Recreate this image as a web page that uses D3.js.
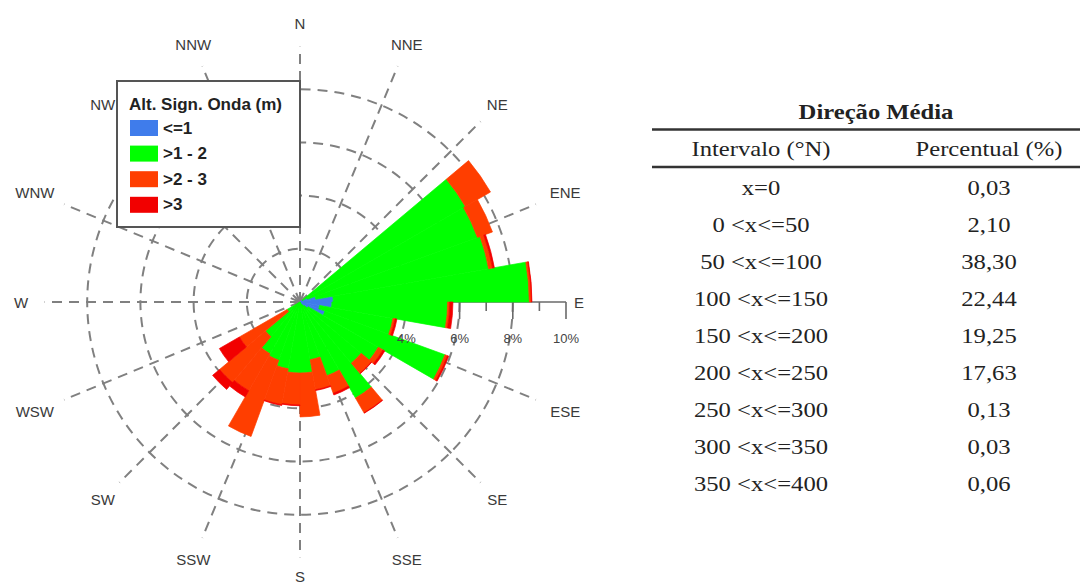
<!DOCTYPE html>
<html><head><meta charset="utf-8">
<script src="https://cdn.jsdelivr.net/npm/d3@7"></script>
<style>html,body{margin:0;padding:0;background:#fff;} svg{display:block;}</style>
</head><body>
<svg id="c" width="1084" height="585"></svg>
<script>
// ---- data (percent of time per 10° direction bin, by wave-height class) ----
const binStarts = d3.range(0, 360, 10);
const pctBlue   = [0,0,0,0,0, 0.10,0.30,0.60,1.25,1.20, 0.75,1.00,0.35,0.20,0.10, 0.05,0.05,0,0,0, 0,0,0,0,0, 0,0,0,0,0, 0,0,0,0,0,0];
const pctGreen  = [0,0,0,0,0, 7.08,6.80,6.60,7.37,4.35, 2.80,4.80,3.05,2.80,4.07, 2.90,2.15,2.67,2.67,2.55, 2.33,2.25,1.70,0.56,0, 0,0,0,0,0, 0,0,0,0,0,0];
const pctOrange = [0,0,0,0,0, 1.09,0.60,0.15,0.08,0.08, 0.08,0.10,0.20,0.50,0.64, 0.70,1.15,1.65,1.20,1.37, 3.05,1.60,2.25,2.07,0, 0,0,0,0,0, 0,0,0,0,0,0];
const pctRed    = [0,0,0,0,0, 0,0,0.07,0.02,0.12, 0.07,0.05,0.08,0.02,0.02, 0.07,0.03,0,0.03,0.03, 0,0.27,0.34,0.87,0, 0,0,0,0,0, 0,0,0,0,0,0];
const classKeys   = ["blue","green","orange","red"];
const classLabels = ["<=1", ">1 - 2", ">2 - 3", ">3"];
const classColors = ["#3F7CEB", "#00FF00", "#FF3E00", "#F20000"];
const legendTitle = "Alt. Sign. Onda (m)";
const compassLabels = ["N","NNE","NE","ENE","E","ESE","SE","SSE","S","SSW","SW","WSW","W","WNW","NW","NNW"];
const gridCircles = [2,4,6,8];
const axisTicks = [4,5,6,7,8,9,10];
const axisLabels = [4,6,8,10];

const tableTitle = "Direção Média";
const tableHeaders = ["Intervalo (°N)", "Percentual (%)"];
const tableIntervals = ["x=0","0 <x<=50","50 <x<=100","100 <x<=150","150 <x<=200","200 <x<=250","250 <x<=300","300 <x<=350","350 <x<=400"];
const tablePercents = ["0,03","2,10","38,30","22,44","19,25","17,63","0,13","0,03","0,06"];

// ---- layout ----
const svg = d3.select("#c");
const cx = 300, cy = 302;
const r = d3.scaleLinear().domain([0,10]).range([0,266]);
const rose = svg.append("g").attr("transform",`translate(${cx},${cy})`);
const rad = d => d*Math.PI/180;
const gridCol = "#808080";

// grid circles
rose.selectAll("circle.grid").data(gridCircles).join("circle")
  .attr("r", d=>r(d)).attr("fill","none").attr("stroke",gridCol)
  .attr("stroke-width",2).attr("stroke-dasharray","10,7");
// radial lines
const spokes = d3.range(16).map(i=>i*22.5).filter(a=>a!==90);
rose.selectAll("line.spoke").data(spokes).join("line")
  .attr("x1",0).attr("y1",0)
  .attr("x2",d=>r(9.6)*Math.sin(rad(d))).attr("y2",d=>-r(9.6)*Math.cos(rad(d)))
  .attr("stroke",gridCol).attr("stroke-width",2).attr("stroke-dasharray","10,7");

// percentage axis along E
rose.append("line").attr("x1",0).attr("x2",r(10)).attr("y1",0).attr("y2",0)
  .attr("stroke","#6a6a6a").attr("stroke-width",1.6);
rose.selectAll("line.tick").data(axisTicks).join("line")
  .attr("x1",d=>r(d)).attr("x2",d=>r(d)).attr("y1",0).attr("y2",d=>d%2===0?17:9)
  .attr("stroke","#6a6a6a").attr("stroke-width",1.6);

// stacked bars
const rows = binStarts.map((d,i)=>({dir:d, blue:pctBlue[i], green:pctGreen[i], orange:pctOrange[i], red:pctRed[i]}));
const stacked = d3.stack().keys(classKeys)(rows);
const arc = d3.arc();
stacked.forEach((layer,k)=>{
  rose.append("g").selectAll("path").data(layer.filter(s=>s[1]>s[0])).join("path")
    .attr("fill",classColors[k]).attr("stroke",classColors[k]).attr("stroke-width",0.7)
    .attr("d",s=>arc({innerRadius:r(s[0]), outerRadius:r(s[1]), startAngle:rad(s.data.dir), endAngle:rad(s.data.dir+10)}));
});

rose.selectAll("text.pct").data(axisLabels).join("text")
  .attr("x",d=>r(d)).attr("y",36).attr("text-anchor","middle").attr("dominant-baseline","central")
  .attr("font-family","Liberation Sans, Arial, sans-serif").attr("font-size",13).attr("fill","#444")
  .text(d=>d+"%");

// compass labels
svg.append("g").selectAll("text").data(compassLabels).join("text")
  .each(function(d,i){
    const a = rad(i*22.5);
    const s = Math.abs(Math.sin(a)), c = Math.abs(Math.cos(a));
    const rr = 279 + ((s>0.9 && c>0.3) ? 8 : 0) - (i===8 ? 5 : 0);
    d3.select(this).attr("x", cx + rr*Math.sin(a)).attr("y", cy - rr*Math.cos(a));
  })
  .attr("text-anchor","middle").attr("dominant-baseline","central")
  .attr("font-family","Liberation Sans, Arial, sans-serif").attr("font-size",15).attr("fill","#3a3a3a")
  .text(d=>d);

// legend
const lg = svg.append("g");
lg.append("rect").attr("x",117).attr("y",81).attr("width",183).attr("height",146)
  .attr("fill","#fff").attr("stroke","#555").attr("stroke-width",2);
lg.append("text").attr("x",129).attr("y",104).attr("dominant-baseline","central")
  .attr("font-family","Liberation Sans, Arial, sans-serif").attr("font-size",17).attr("font-weight","bold")
  .attr("fill","#222").text(legendTitle);
const li = lg.selectAll("g.item").data(classLabels).join("g")
  .attr("transform",(d,i)=>`translate(130,${128 + i*25.6})`);
li.append("rect").attr("x",0).attr("y",-8).attr("width",28).attr("height",16).attr("fill",(d,i)=>classColors[i]);
li.append("text").attr("x",33).attr("y",0).attr("dominant-baseline","central")
  .attr("font-family","Liberation Sans, Arial, sans-serif").attr("font-size",17).attr("font-weight","bold")
  .attr("fill","#222").text(d=>d);

// table
const tg = svg.append("g").attr("font-family","Liberation Serif, Times New Roman, serif").attr("fill","#222");
const sx = 1.12, fs = 22;
function ttext(x,y,t,bold){
  tg.append("text").attr("transform",`translate(${x},${y}) scale(${sx},1)`)
    .attr("text-anchor","middle").attr("font-size",fs).attr("font-weight",bold?"bold":"normal").text(t);
}
const colX = [761, 989];
ttext(876, 119, tableTitle, true);
tg.append("line").attr("x1",652).attr("x2",1080).attr("y1",129.5).attr("y2",129.5).attr("stroke","#333").attr("stroke-width",2.5);
tableHeaders.forEach((h,i)=>ttext(colX[i], 156, h, false));
tg.append("line").attr("x1",652).attr("x2",1080).attr("y1",167).attr("y2",167).attr("stroke","#333").attr("stroke-width",2.5);
tableIntervals.forEach((t,i)=>{
  ttext(colX[0], 195 + i*37.06, t, false);
  ttext(colX[1], 195 + i*37.06, tablePercents[i], false);
});
</script>
</body></html>
